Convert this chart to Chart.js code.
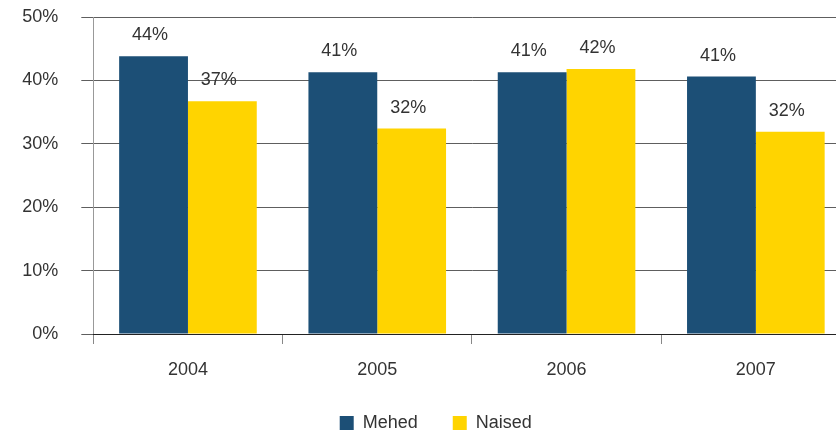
<!DOCTYPE html>
<html>
<head>
<meta charset="utf-8">
<title>Mehed / Naised 2004-2007</title>
<script src="https://cdn.jsdelivr.net/npm/chart.js@4/dist/chart.umd.min.js"></script>
<style>
    html, body {
        margin: 0;
        padding: 0;
        background: #fff;
        overflow: hidden;
    }
    #wrap {
        position: relative;
        width: 872px;
        height: 431px;
    }
</style>
</head>
<body>
<div id="wrap"><canvas id="barChart"></canvas></div>
<script>
// Chart data
const years = ['2004', '2005', '2006', '2007'];
const seriesNames = ['Mehed', 'Naised'];
const mehedValues = [43.8, 41.3, 41.3, 40.6];
const naisedValues = [36.7, 32.4, 41.8, 31.9];
const yTicks = [0, 10, 20, 30, 40, 50];

const FONT = '"Liberation Sans", Arial, sans-serif';
const TEXT_COLOR = '#333333';

/**
 * Draws the value above every bar
 */
const valueLabels = {
    id: 'valueLabels',
    afterDatasetsDraw(chart) {
        const ctx = chart.ctx;
        ctx.save();
        ctx.font = '18px ' + FONT;
        ctx.fillStyle = TEXT_COLOR;
        ctx.textAlign = 'center';
        ctx.textBaseline = 'middle';
        chart.data.datasets.forEach((ds, i) => {
            const meta = chart.getDatasetMeta(i);
            meta.data.forEach((bar, j) => {
                ctx.fillText(Math.round(ds.data[j]) + '%', bar.x - 3.5, bar.y - 21);
            });
        });
        ctx.restore();
    }
};

/**
 * Keeps the legend short: wide gaps between items, small height
 */
const legendHeight = {
    id: 'legendHeight',
    afterInit(chart) {
        const legend = chart.legend;
        if (!legend) return;
        const fit = legend.fit;
        legend.fit = function () {
            fit.call(this);
            this.height = 52;
        };
    }
};

/**
 * Initialize bar chart
 * @param {string} canvasId - Canvas element ID
 */
function initBarChart(canvasId) {
    const canvas = document.getElementById(canvasId);
    if (!canvas) {
        console.error(`Canvas element with id "${canvasId}" not found`);
        return null;
    }

    return new Chart(canvas.getContext('2d'), {
        type: 'bar',
        data: {
            labels: years,
            datasets: [{
                label: seriesNames[0],
                data: mehedValues,
                backgroundColor: '#1c4f76',
                categoryPercentage: 0.727,
                barPercentage: 1.0
            }, {
                label: seriesNames[1],
                data: naisedValues,
                backgroundColor: '#ffd400',
                categoryPercentage: 0.727,
                barPercentage: 1.0
            }]
        },
        options: {
            responsive: true,
            maintainAspectRatio: false,
            animation: false,
            layout: {
                padding: { top: 17, right: 21.5, left: 21, bottom: 0 }
            },
            plugins: {
                legend: {
                    position: 'bottom',
                    labels: {
                        boxWidth: 14,
                        boxHeight: 14,
                        padding: 35,
                        color: TEXT_COLOR,
                        font: { family: FONT, size: 18 }
                    }
                },
                tooltip: { enabled: false }
            },
            scales: {
                y: {
                    min: 0,
                    max: 50,
                    afterFit(scale) {
                        scale.width = 72.3;
                        scale.paddingTop = 0;
                        scale.paddingBottom = 0;
                    },
                    afterBuildTicks(scale) {
                        scale.ticks = yTicks.map(v => ({ value: v }));
                    },
                    border: { color: '#999999', width: 1 },
                    grid: {
                        color: '#5e5e5e',
                        lineWidth: 1,
                        tickLength: 12
                    },
                    ticks: {
                        padding: 23,
                        color: TEXT_COLOR,
                        font: { family: FONT, size: 18 },
                        callback: v => v + '%'
                    }
                },
                x: {
                    afterFit(scale) { scale.height = 45; },
                    border: { color: '#222222', width: 1 },
                    grid: {
                        offset: true,
                        drawOnChartArea: false,
                        color: '#888888',
                        tickLength: 10
                    },
                    ticks: {
                        padding: 15,
                        color: TEXT_COLOR,
                        font: { family: FONT, size: 18 }
                    }
                }
            }
        },
        plugins: [valueLabels, legendHeight]
    });
}

initBarChart('barChart');
</script>
</body>
</html>
